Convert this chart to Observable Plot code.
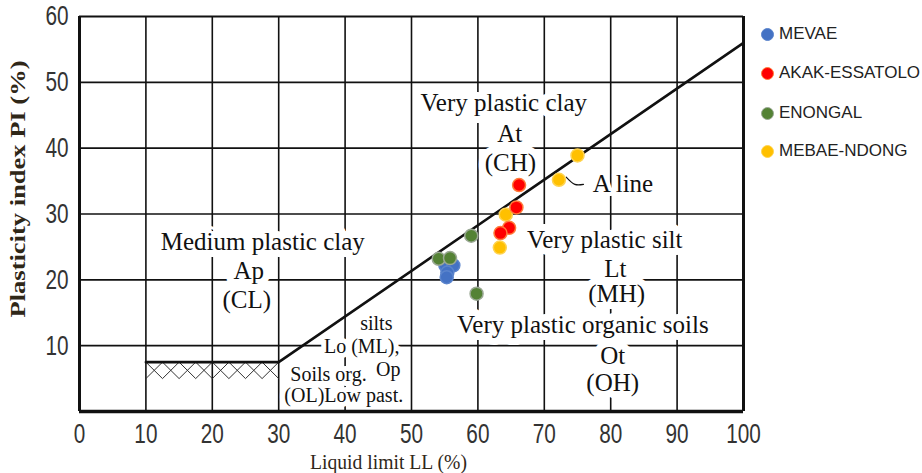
<!DOCTYPE html>
<html><head><meta charset="utf-8">
<script src="https://cdn.jsdelivr.net/npm/d3@7"></script>
<script src="https://cdn.jsdelivr.net/npm/@observablehq/plot@0.6"></script>
<style>
html,body{margin:0;padding:0;background:#fff;}
#wrap{position:relative;width:922px;height:473px;overflow:hidden;background:#fff;}
#chart svg text{paint-order:stroke;}
#chart g[aria-label^="x-axis"] text,#chart g[aria-label^="y-axis"] text{font-size:28px;font-family:"Liberation Sans",Arial,sans-serif;fill:#333;}
.lg{position:absolute;left:761px;height:20px;line-height:20px;display:flex;align-items:center;font:17px "Liberation Sans",Arial,sans-serif;color:#222;white-space:nowrap;}
.lg .d{display:inline-block;width:13px;height:13px;border-radius:50%;margin-right:5px;box-sizing:border-box;}
</style></head>
<body><div id="wrap"><div id="chart"></div><div id="legend"></div></div>
<script>
// ---- data ----
const sites = ["MEVAE","AKAK-ESSATOLO","ENONGAL","MEBAE-NDONG"];
const siteFill = ["#4472C4","#FF0000","#548235","#FFC000"];
const siteRing = ["#5a84cc","#ff7b3a","#9aa894","#ffd34f"];

const mevaeLL = [55.1, 56.3, 55.4, 55.3];
const mevaePI = [22.2, 22.2, 21.1, 20.4];
const akakLL  = [66.2, 65.8, 64.7, 63.4];
const akakPI  = [34.4, 31.0, 27.9, 27.1];
const enongalLL = [59.0, 54.1, 55.8, 59.8];
const enongalPI = [26.7, 23.2, 23.3, 17.9];
const mebaeLL = [75.0, 72.2, 64.2, 63.3];
const mebaePI = [38.9, 35.2, 29.9, 24.9];

const aLineLL = [10, 30, 100];
const aLinePI = [7.5, 7.5, 56];

const hatchFrom = [10, 12.5, 15, 17.5, 20, 22.5, 25, 27.5];
const hatchTo   = [12.5, 15, 17.5, 20, 22.5, 25, 27.5, 30];
const hatchTop = 7.5, hatchBottom = 5;

const leaderLL = [73.3, 74.6, 75.9];
const leaderPI = [35.6, 34.5, 34.5];

const xTicks = [0,10,20,30,40,50,60,70,80,90,100];
const yTicks = [10,20,30,40,50,60];
const gridLL = [10,20,30,40,50,60,70,80,90];
const gridPI = [10,20,30,40,50];

const bigLabelText = ["Very plastic clay","At","(CH)","Very plastic silt","Lt","(MH)","Very plastic organic soils","Ot","(OH)","Medium plastic clay","Ap","(CL)"];
const bigLabelLL = [63.9,64.8,64.9,79.1,80.7,80.9,75.8,80.3,80.3,27.6,25.5,25.2];
const bigLabelPI = [46.8,42.2,37.8,26.1,21.7,17.8,13.2,8.4,4.4,25.8,21.4,16.9];
const smallLabelText = ["silts","Lo (ML),","Op","Soils org.","(OL)Low past."];
const smallLabelLL = [44.7,42.5,46.5,37.5,39.8];
const smallLabelPI = [13.4,9.9,6.4,5.6,2.4];
const aLineLabel = ["A line"], aLineLabelLL = [77.3], aLineLabelPI = [34.6];

const xTitle = "Liquid limit LL (%)";
const yTitle = "Plasticity index PI (%)";

// ---- tables ----
const zipPts = (xs, ys) => xs.map((x,i)=>({LL:x, PI:ys[i]}));
const siteData = [zipPts(mevaeLL,mevaePI), zipPts(akakLL,akakPI), zipPts(enongalLL,enongalPI), zipPts(mebaeLL,mebaePI)];
const aLine = zipPts(aLineLL, aLinePI);
const leader = zipPts(leaderLL, leaderPI);
const hatch = hatchFrom.map((a,i)=>({a, b:hatchTo[i]}));
const bigLabels = bigLabelText.map((t,i)=>({t, LL:bigLabelLL[i], PI:bigLabelPI[i]}));
const smallLabels = smallLabelText.map((t,i)=>({t, LL:smallLabelLL[i], PI:smallLabelPI[i]}));
const aLab = aLineLabel.map((t,i)=>({t, LL:aLineLabelLL[i], PI:aLineLabelPI[i]}));

const serif = "'Liberation Serif','Times New Roman',serif";
const ink = "#111";
const titleInk = "#2f2718";
const drawOrder = [0, 3, 1, 2];

const chart = Plot.plot({
  width: 922, height: 473,
  marginLeft: 79, marginRight: 179, marginTop: 16, marginBottom: 62,
  style: {background: "white", overflow: "visible"},
  x: {domain: [0,100], ticks: xTicks, tickSize: 0, tickPadding: 12, tickFormat: d=>String(d), label: null},
  y: {domain: [0,60], ticks: yTicks, tickSize: 0, tickPadding: 11, tickFormat: d=>String(d), label: null},
  marks: [
    Plot.ruleX(gridLL, {stroke: ink, strokeWidth: 1.6}),
    Plot.ruleY(gridPI, {stroke: ink, strokeWidth: 1.6}),
    Plot.text(bigLabels, {x:"LL", y:"PI", text:"t", fontSize: 25, fontFamily: serif, fill: ink, stroke: "white", strokeWidth: 14, lineAnchor: "middle"}),
    Plot.text(aLab, {x:"LL", y:"PI", text:"t", fontSize: 25, fontFamily: serif, fill: ink, stroke: "white", strokeWidth: 8, textAnchor: "start", lineAnchor: "middle"}),
    Plot.text(smallLabels, {x:"LL", y:"PI", text:"t", fontSize: 20, fontFamily: serif, fill: ink, stroke: "white", strokeWidth: 10, lineAnchor: "middle"}),
    Plot.ruleX([0], {stroke: ink, strokeWidth: 3}),
    Plot.ruleX([100], {stroke: ink, strokeWidth: 3}),
    Plot.ruleY([0], {stroke: ink, strokeWidth: 3.5}),
    Plot.ruleY([60], {stroke: ink, strokeWidth: 2}),
    Plot.link(hatch, {x1:"a", x2:"b", y1: ()=>hatchTop, y2: ()=>hatchBottom, stroke: "#333", strokeWidth: 1}),
    Plot.link(hatch, {x1:"a", x2:"b", y1: ()=>hatchBottom, y2: ()=>hatchTop, stroke: "#333", strokeWidth: 1}),
    Plot.line(aLine, {x:"LL", y:"PI", stroke: ink, strokeWidth: 2.6}),
    Plot.line(leader, {x:"LL", y:"PI", stroke: ink, strokeWidth: 1.2, curve: "catmull-rom"}),
    ...drawOrder.map(i => Plot.dot(siteData[i], {x:"LL", y:"PI", r: 6.5, fill: siteFill[i], stroke: siteRing[i], strokeWidth: 1.5})),
    Plot.text([yTitle], {frameAnchor: "left", text: d=>d, rotate: -90, dx: -61, dy: 103.5, textAnchor: "start", fontSize: 20, fontWeight: "bold", fontFamily: serif, fill: titleInk, lineAnchor: "middle"}),
    Plot.text([xTitle], {frameAnchor: "bottom", text: d=>d, dx: -23, dy: 51, fontSize: 21, fontFamily: serif, fill: titleInk, lineAnchor: "middle"})
  ]
});
document.getElementById("chart").appendChild(chart);

// narrow tick glyphs and fit titles
function fit(el, len){ el.setAttribute("textLength", len.toFixed(1)); el.setAttribute("lengthAdjust","spacingAndGlyphs"); }
d3.select(chart).selectAll('g[aria-label^="x-axis"] text, g[aria-label^="y-axis"] text').each(function(){
  fit(this, this.getComputedTextLength()*0.74);
});
d3.select(chart).selectAll("text").each(function(){
  if (this.textContent === yTitle) fit(this, 257);
  if (this.textContent === xTitle) fit(this, 157);
});

// legend
const legendY = [34, 73, 113, 151];
const lg = document.getElementById("legend");
sites.forEach((s,i)=>{
  const row = document.createElement("div");
  row.className = "lg";
  row.style.top = (legendY[i]-10) + "px";
  row.innerHTML = `<span class="d" style="background:${siteFill[i]};border:1.5px solid ${siteRing[i]}"></span>${s}`;
  lg.appendChild(row);
});
</script>
</body></html>
